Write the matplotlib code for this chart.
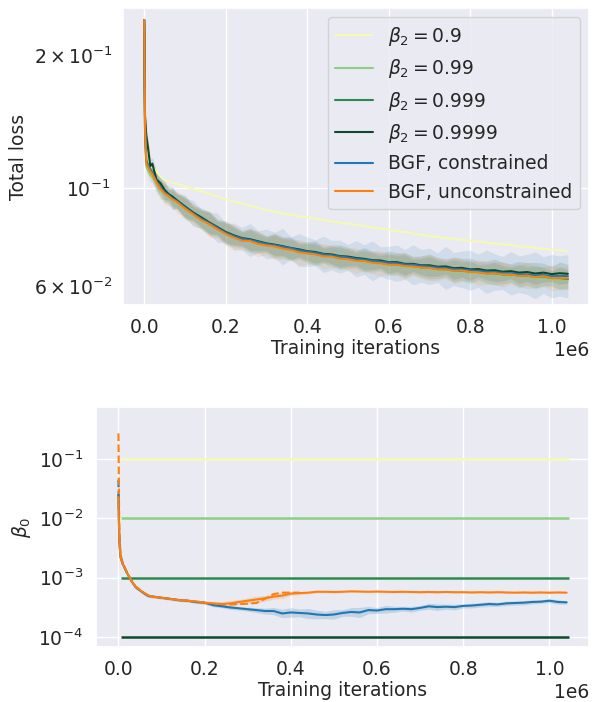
import matplotlib
matplotlib.use("Agg")
import matplotlib.pyplot as plt
import numpy as np
import seaborn as sns

# training iterations (in millions)
iters = [0, 0.002, 0.005, 0.01, 0.015, 0.02, 0.03, 0.04, 0.05, 0.06, 0.07, 0.08,
         0.10, 0.12, 0.14, 0.16, 0.18, 0.20, 0.22, 0.24, 0.26, 0.28,
         0.30, 0.32, 0.34, 0.36, 0.38, 0.40, 0.42, 0.44, 0.46, 0.48,
         0.50, 0.52, 0.54, 0.56, 0.58, 0.60, 0.62, 0.64, 0.66, 0.68,
         0.70, 0.72, 0.74, 0.76, 0.78, 0.80, 0.82, 0.84, 0.86, 0.88,
         0.90, 0.92, 0.94, 0.96, 0.98, 1.00, 1.02, 1.04]

# ---- total loss ----
loss_b09 = [0.240, 0.140, 0.118, 0.115, 0.113, 0.1115, 0.1090, 0.1062, 0.1042, 0.1035, 0.1027, 0.1021,
            0.1010, 0.0994, 0.0982, 0.0970, 0.0956, 0.0942, 0.0931, 0.0921, 0.0911, 0.0901,
            0.0891, 0.0883, 0.0876, 0.0869, 0.0864, 0.0857, 0.0852, 0.0846, 0.0840, 0.0835,
            0.0830, 0.0825, 0.0819, 0.0814, 0.0809, 0.0804, 0.0799, 0.0794, 0.0789, 0.0783,
            0.0778, 0.0774, 0.0770, 0.0767, 0.0763, 0.0759, 0.0756, 0.0752, 0.0749, 0.0745,
            0.0742, 0.0738, 0.0735, 0.0731, 0.0728, 0.0725, 0.0722, 0.0719]
loss_b099 = [0.240, 0.132, 0.112, 0.109, 0.107, 0.1060, 0.1020, 0.0988, 0.0966, 0.0952, 0.0937, 0.0926,
             0.0896, 0.0869, 0.0845, 0.0826, 0.0805, 0.0786, 0.0771, 0.0761, 0.0756, 0.0747,
             0.0740, 0.0735, 0.0728, 0.0722, 0.0715, 0.0710, 0.0705, 0.0700, 0.0697, 0.0691,
             0.0688, 0.0683, 0.0681, 0.0676, 0.0673, 0.0669, 0.0667, 0.0663, 0.0661, 0.0657,
             0.0656, 0.0651, 0.0651, 0.0646, 0.0646, 0.0642, 0.0641, 0.0637, 0.0637, 0.0633,
             0.0633, 0.0629, 0.0629, 0.0625, 0.0626, 0.0621, 0.0621, 0.0619]
loss_b0999 = [0.240, 0.140, 0.116, 0.112, 0.110, 0.1085, 0.1038, 0.1002, 0.0976, 0.0960, 0.0944, 0.0933,
              0.0902, 0.0874, 0.0850, 0.0830, 0.0809, 0.0790, 0.0775, 0.0764, 0.0760, 0.0750,
              0.0744, 0.0739, 0.0732, 0.0726, 0.0719, 0.0713, 0.0709, 0.0703, 0.0701, 0.0695,
              0.0692, 0.0687, 0.0685, 0.0680, 0.0677, 0.0672, 0.0671, 0.0667, 0.0665, 0.0661,
              0.0660, 0.0655, 0.0655, 0.0650, 0.0650, 0.0646, 0.0645, 0.0641, 0.0641, 0.0637,
              0.0637, 0.0633, 0.0633, 0.0629, 0.0630, 0.0625, 0.0625, 0.0622]
loss_b09999 = [0.240, 0.1456, 0.132, 0.122, 0.112, 0.1135, 0.1045, 0.1025, 0.0990, 0.0968, 0.0955, 0.0938,
               0.0908, 0.0880, 0.0858, 0.0835, 0.0815, 0.0795, 0.0781, 0.0770, 0.0765, 0.0757,
               0.0749, 0.0744, 0.0738, 0.0731, 0.0726, 0.0719, 0.0716, 0.0709, 0.0707, 0.0701,
               0.0699, 0.0694, 0.0691, 0.0686, 0.0685, 0.0679, 0.0679, 0.0673, 0.0673, 0.0668,
               0.0668, 0.0663, 0.0664, 0.0658, 0.0659, 0.0654, 0.0655, 0.0650, 0.0651, 0.0646,
               0.0648, 0.0643, 0.0645, 0.0640, 0.0643, 0.0638, 0.0641, 0.0639]
loss_bgf_c = [0.240, 0.136, 0.115, 0.112, 0.110, 0.1080, 0.1035, 0.1000, 0.0978, 0.0962, 0.0946, 0.0934,
              0.0904, 0.0876, 0.0852, 0.0832, 0.0812, 0.0792, 0.0778, 0.0768, 0.0762, 0.0755,
              0.0747, 0.0742, 0.0736, 0.0730, 0.0723, 0.0717, 0.0713, 0.0707, 0.0704, 0.0699,
              0.0696, 0.0691, 0.0688, 0.0684, 0.0681, 0.0677, 0.0675, 0.0671, 0.0670, 0.0666,
              0.0664, 0.0660, 0.0659, 0.0655, 0.0654, 0.0651, 0.0649, 0.0646, 0.0645, 0.0642,
              0.0641, 0.0638, 0.0637, 0.0634, 0.0635, 0.0631, 0.0632, 0.0631]
loss_bgf_u = [0.240, 0.137, 0.114, 0.111, 0.109, 0.1075, 0.1030, 0.0995, 0.0972, 0.0958, 0.0942, 0.0930,
              0.0899, 0.0872, 0.0846, 0.0828, 0.0806, 0.0787, 0.0772, 0.0760, 0.0758, 0.0747,
              0.0741, 0.0737, 0.0729, 0.0724, 0.0715, 0.0711, 0.0707, 0.0700, 0.0699, 0.0692,
              0.0690, 0.0684, 0.0683, 0.0677, 0.0675, 0.0670, 0.0670, 0.0665, 0.0664, 0.0660,
              0.0659, 0.0654, 0.0654, 0.0649, 0.0650, 0.0645, 0.0644, 0.0640, 0.0641, 0.0637,
              0.0637, 0.0632, 0.0633, 0.0628, 0.0631, 0.0625, 0.0626, 0.0624]

# band widths (multiplicative factor around the mean)
band_loss_c = [1.02, 1.03, 1.03, 1.04, 1.03, 1.05, 1.04, 1.06, 1.04, 1.05, 1.06, 1.04,
               1.05, 1.07, 1.05, 1.06, 1.08, 1.05, 1.07, 1.06, 1.09, 1.06,
               1.08, 1.07, 1.10, 1.06, 1.09, 1.08, 1.07, 1.10, 1.08, 1.09,
               1.07, 1.10, 1.08, 1.11, 1.08, 1.09, 1.10, 1.08, 1.11, 1.09,
               1.10, 1.08, 1.12, 1.09, 1.10, 1.11, 1.09, 1.12, 1.10, 1.09,
               1.12, 1.10, 1.11, 1.13, 1.10, 1.12, 1.11, 1.12]
band_loss_u = [1.02, 1.03, 1.04, 1.03, 1.05, 1.04, 1.05, 1.04, 1.06, 1.05, 1.04, 1.06,
               1.05, 1.06, 1.05, 1.07, 1.05, 1.06, 1.07, 1.05, 1.06, 1.07,
               1.05, 1.07, 1.06, 1.05, 1.07, 1.06, 1.05, 1.07, 1.06, 1.05,
               1.06, 1.07, 1.05, 1.06, 1.07, 1.05, 1.06, 1.07, 1.05, 1.06,
               1.07, 1.06, 1.05, 1.07, 1.06, 1.05, 1.07, 1.06, 1.06, 1.07,
               1.05, 1.06, 1.07, 1.06, 1.05, 1.07, 1.06, 1.06]
band_loss_adam = [1.03, 1.04, 1.03, 1.05, 1.04, 1.03, 1.05, 1.04, 1.05, 1.03, 1.05, 1.04,
                  1.06, 1.04, 1.05, 1.06, 1.04, 1.06, 1.05, 1.04, 1.06, 1.05,
                  1.04, 1.06, 1.05, 1.06, 1.04, 1.05, 1.06, 1.04, 1.05, 1.06,
                  1.05, 1.04, 1.06, 1.05, 1.04, 1.06, 1.05, 1.06, 1.04, 1.05,
                  1.06, 1.05, 1.04, 1.06, 1.05, 1.06, 1.04, 1.05, 1.06, 1.05,
                  1.04, 1.06, 1.05, 1.06, 1.05, 1.04, 1.06, 1.05]

# ---- beta_0 ----
beta_levels = [1e-1, 1e-2, 1e-3, 1e-4]
level_span = [0.005, 1.045]
beta_bgf_c = [0.025, 0.0040, 0.0022, 0.0017, 0.00144, 0.00120, 0.00088, 0.00069, 0.00061, 0.00054, 0.00049, 0.00048,
              0.00046, 0.00044, 0.00042, 0.00041, 0.00039, 0.00038, 0.000345, 0.00033, 0.000315, 0.000305,
              0.000295, 0.000285, 0.000275, 0.000275, 0.00025, 0.00026, 0.000255, 0.00025, 0.00024, 0.000235,
              0.00024, 0.000255, 0.000265, 0.00026, 0.000285, 0.00028, 0.000295, 0.000295, 0.00030, 0.000295,
              0.00031, 0.00033, 0.00032, 0.000325, 0.00032, 0.000335, 0.00034, 0.00035, 0.00036, 0.000355,
              0.00037, 0.000375, 0.00038, 0.00039, 0.000395, 0.00041, 0.00039, 0.000385]
beta_bgf_u = [0.023, 0.0042, 0.0022, 0.0017, 0.00144, 0.00121, 0.00089, 0.00070, 0.00062, 0.00055, 0.00050, 0.00048,
              0.00046, 0.00044, 0.00042, 0.00041, 0.00040, 0.00038, 0.00037, 0.00036, 0.00037, 0.00039,
              0.00041, 0.00043, 0.00045, 0.00048, 0.00050, 0.00054, 0.00055, 0.00056, 0.00058, 0.00058,
              0.000575, 0.00058, 0.00059, 0.000585, 0.00058, 0.000585, 0.00058, 0.000575, 0.00058, 0.000575,
              0.00057, 0.000575, 0.00057, 0.000575, 0.00057, 0.00057, 0.000565, 0.00057, 0.000565, 0.00057,
              0.000565, 0.00056, 0.000565, 0.00056, 0.000565, 0.00056, 0.000565, 0.00056]
beta_bgf_u_alt = [0.27, 0.0060, 0.0024, 0.0018, 0.00145, 0.00122, 0.00090, 0.00071, 0.00062, 0.00055, 0.00050, 0.00048,
                  0.00046, 0.00044, 0.00042, 0.00041, 0.00039, 0.00038, 0.00036, 0.00035, 0.000355, 0.00036,
                  0.000365, 0.000375, 0.00044, 0.00053, 0.00056, 0.00056, 0.00056]
beta_bgf_c_alt = [0.045, 0.0045, 0.0023, 0.0017, 0.00144, 0.00120]
band_beta_c = [1.3, 1.2, 1.08, 1.06, 1.05, 1.06, 1.05, 1.06, 1.05, 1.06, 1.05, 1.05,
               1.05, 1.05, 1.06, 1.05, 1.06, 1.06, 1.07, 1.06, 1.08, 1.07,
               1.08, 1.10, 1.12, 1.15, 1.18, 1.2, 1.16, 1.22, 1.18, 1.15,
               1.2, 1.14, 1.18, 1.22, 1.15, 1.12, 1.16, 1.12, 1.1, 1.12,
               1.1, 1.12, 1.14, 1.1, 1.12, 1.08, 1.1, 1.09, 1.1, 1.08,
               1.09, 1.08, 1.09, 1.08, 1.07, 1.08, 1.09, 1.07]
band_beta_u = [20.0, 1.5, 1.08, 1.06, 1.05, 1.06, 1.05, 1.07, 1.06, 1.07, 1.06, 1.05,
               1.05, 1.05, 1.05, 1.05, 1.06, 1.06, 1.08, 1.1, 1.12, 1.1,
               1.12, 1.14, 1.12, 1.1, 1.12, 1.08, 1.06, 1.05, 1.04, 1.04,
               1.04, 1.03, 1.04, 1.03, 1.04, 1.03, 1.04, 1.03, 1.04, 1.03,
               1.04, 1.03, 1.04, 1.03, 1.04, 1.03, 1.04, 1.03, 1.04, 1.03,
               1.04, 1.03, 1.04, 1.03, 1.04, 1.03, 1.04, 1.03]

labels = [r"$\beta_2 = 0.9$", r"$\beta_2 = 0.99$", r"$\beta_2 = 0.999$",
          r"$\beta_2 = 0.9999$", "BGF, constrained", "BGF, unconstrained"]
colors = ["#f4fab4", "#8ccf82", "#2b8a4b", "#0a4a2a", "#1f77b4", "#ff7f0e"]

sns.set_theme(style="darkgrid")
fs = 13.5
plt.rcParams.update({"font.size": fs, "axes.labelsize": fs,
                     "xtick.labelsize": fs, "ytick.labelsize": fs,
                     "legend.fontsize": fs})

x = np.array(iters) * 1e6
fig = plt.figure(figsize=(5.92, 7.02), dpi=100)
ax1 = fig.add_axes([0.2078, 0.5655, 0.7872, 0.4231])
ax2 = fig.add_axes([0.1622, 0.0783, 0.8328, 0.3419])

# top panel
series = [loss_b09, loss_b099, loss_b0999, loss_b09999, loss_bgf_c, loss_bgf_u]
bands = [None, band_loss_adam, band_loss_adam, band_loss_adam, band_loss_c, band_loss_u]
for vals, band, c in zip(series, bands, colors):
    if band is None:
        continue
    m = np.array(vals)
    f = np.array(band)
    ax1.fill_between(x, m / f, m * f, color=c, alpha=0.12, lw=0)
for vals, c, lab in zip(series, colors, labels):
    ax1.plot(x, vals, color=c, lw=1.5, label=lab)
ax1.set_yscale("log")
ax1.set_ylim(0.0543, 0.2556)
ax1.set_xlim(-0.052e6, 1.092e6)
ax1.set_ylabel("Total loss")
ax1.set_xlabel("Training iterations", labelpad=1)
ax1.legend(loc="upper right")

# bottom panel
for lvl, c in zip(beta_levels, colors[:4]):
    ax2.hlines(lvl, level_span[0] * 1e6, level_span[1] * 1e6, color=c, lw=1.8)
for vals, band, c in [(beta_bgf_c, band_beta_c, colors[4]), (beta_bgf_u, band_beta_u, colors[5])]:
    m = np.array(vals)
    f = np.array(band)
    ax2.fill_between(x, m / f, m * f, color=c, alpha=0.2, lw=0)
ax2.plot(x[:len(beta_bgf_c_alt)], beta_bgf_c_alt, color=colors[4], lw=1.5, ls="--")
ax2.plot(x[:len(beta_bgf_u_alt)], beta_bgf_u_alt, color=colors[5], lw=1.5, ls="--")
ax2.plot(x, beta_bgf_c, color=colors[4], lw=1.5)
ax2.plot(x, beta_bgf_u, color=colors[5], lw=1.5)
ax2.set_yscale("log")
ax2.set_ylim(6.8e-5, 0.75)
ax2.set_xlim(-0.052e6, 1.092e6)
ax2.set_ylabel(r"$\beta_0$")
ax2.set_xlabel("Training iterations", labelpad=1)

fig.savefig("out.png", dpi=100)
